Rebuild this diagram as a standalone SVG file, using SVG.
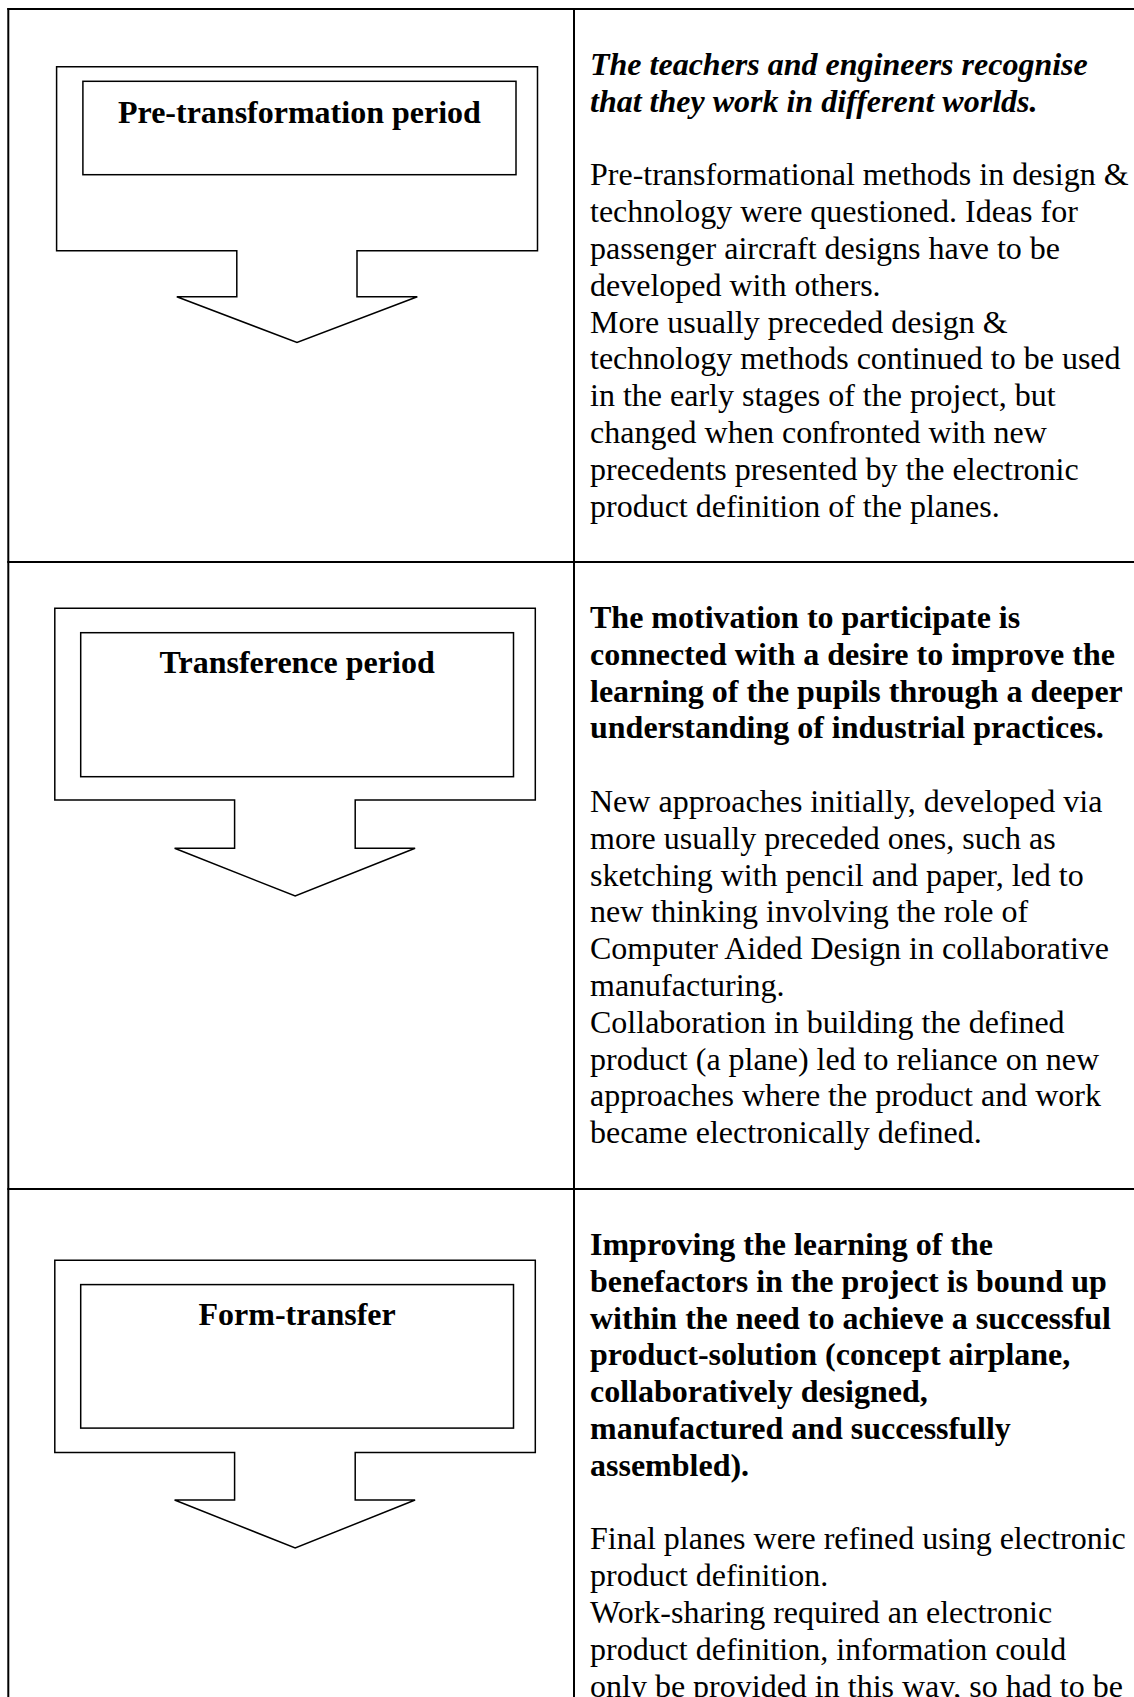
<svg xmlns="http://www.w3.org/2000/svg" width="1134" height="1697" viewBox="0 0 1134 1697">
<style>
.grid{stroke:#000;stroke-width:2;fill:none}
.shape{fill:#fff;stroke:#000;stroke-width:1.5;stroke-linejoin:miter}
.lab{font-family:"Liberation Serif","Times New Roman",serif;font-size:32px;font-weight:bold;text-anchor:middle;fill:#000}
.txt{font-family:"Liberation Serif","Times New Roman",serif;font-size:32px;fill:#000}
.b{font-weight:bold}
.bi{font-weight:bold;font-style:italic}
</style>
<rect x="0" y="0" width="1134" height="1697" fill="#fff"/>
<g id="grid">
<line class="grid" x1="7.3" y1="9" x2="1134" y2="9"/>
<line class="grid" x1="8.3" y1="8" x2="8.3" y2="1697"/>
<line class="grid" x1="574" y1="9" x2="574" y2="1697"/>
<line class="grid" x1="7.3" y1="562" x2="1134" y2="562"/>
<line class="grid" x1="7.3" y1="1189" x2="1134" y2="1189"/>
</g>
<g id="node-pre-transformation">
<path class="shape" d="M56.6,66.7 H537.5 V250.7 H357 V296.7 H417.3 L297,342.5 L176.8,296.7 H236.8 V250.7 H56.6 Z"/>
<rect class="shape" x="82.9" y="81.3" width="433.1" height="93.4"/>
<text class="lab" x="299.4" y="123.3">Pre-transformation period</text>
</g>
<g id="node-transference">
<path class="shape" d="M54.8,608.3 H535.3 V800 H355.2 V848.3 H415.1 L295.2,896 L174.6,848.3 H234.6 V800 H54.8 Z"/>
<rect class="shape" x="80.7" y="632.7" width="432.8" height="144"/>
<text class="lab" x="297.1" y="673.3">Transference period</text>
</g>
<g id="node-form-transfer">
<path class="shape" d="M54.8,1260.3 H535.3 V1452.5 H355.2 V1500 H415.1 L295.2,1548 L174.6,1500 H234.6 V1452.5 H54.8 Z"/>
<rect class="shape" x="80.7" y="1284.6" width="432.8" height="143.5"/>
<text class="lab" x="297.1" y="1324.6">Form-transfer</text>
</g>
<g id="text-row1" class="txt">
<text class="bi" x="590" y="75">The teachers and engineers recognise</text>
<text class="bi" x="590" y="111.8">that they work in different worlds.</text>
<text x="590" y="185.4">Pre-transformational methods in design &amp;</text>
<text x="590" y="222.2">technology were questioned. Ideas for</text>
<text x="590" y="259">passenger aircraft designs have to be</text>
<text x="590" y="295.8">developed with others.</text>
<text x="590" y="332.6">More usually preceded design &amp;</text>
<text x="590" y="369.4">technology methods continued to be used</text>
<text x="590" y="406.2">in the early stages of the project, but</text>
<text x="590" y="443">changed when confronted with new</text>
<text x="590" y="479.8">precedents presented by the electronic</text>
<text x="590" y="516.6">product definition of the planes.</text>
</g>
<g id="text-row2" class="txt">
<text class="b" x="590" y="628">The motivation to participate is</text>
<text class="b" x="590" y="664.8">connected with a desire to improve the</text>
<text class="b" x="590" y="701.6">learning of the pupils through a deeper</text>
<text class="b" x="590" y="738.4">understanding of industrial practices.</text>
<text x="590" y="812">New approaches initially, developed via</text>
<text x="590" y="848.8">more usually preceded ones, such as</text>
<text x="590" y="885.6">sketching with pencil and paper, led to</text>
<text x="590" y="922.4">new thinking involving the role of</text>
<text x="590" y="959.2">Computer Aided Design in collaborative</text>
<text x="590" y="996">manufacturing.</text>
<text x="590" y="1032.8">Collaboration in building the defined</text>
<text x="590" y="1069.6">product (a plane) led to reliance on new</text>
<text x="590" y="1106.4">approaches where the product and work</text>
<text x="590" y="1143.2">became electronically defined.</text>
</g>
<g id="text-row3" class="txt">
<text class="b" x="590" y="1255">Improving the learning of the</text>
<text class="b" x="590" y="1291.8">benefactors in the project is bound up</text>
<text class="b" x="590" y="1328.6">within the need to achieve a successful</text>
<text class="b" x="590" y="1365.4">product-solution (concept airplane,</text>
<text class="b" x="590" y="1402.2">collaboratively designed,</text>
<text class="b" x="590" y="1439">manufactured and successfully</text>
<text class="b" x="590" y="1475.8">assembled).</text>
<text x="590" y="1549.4">Final planes were refined using electronic</text>
<text x="590" y="1586.2">product definition.</text>
<text x="590" y="1623">Work-sharing required an electronic</text>
<text x="590" y="1659.8">product definition, information could</text>
<text x="590" y="1696.6">only be provided in this way, so had to be</text>
</g>
</svg>
